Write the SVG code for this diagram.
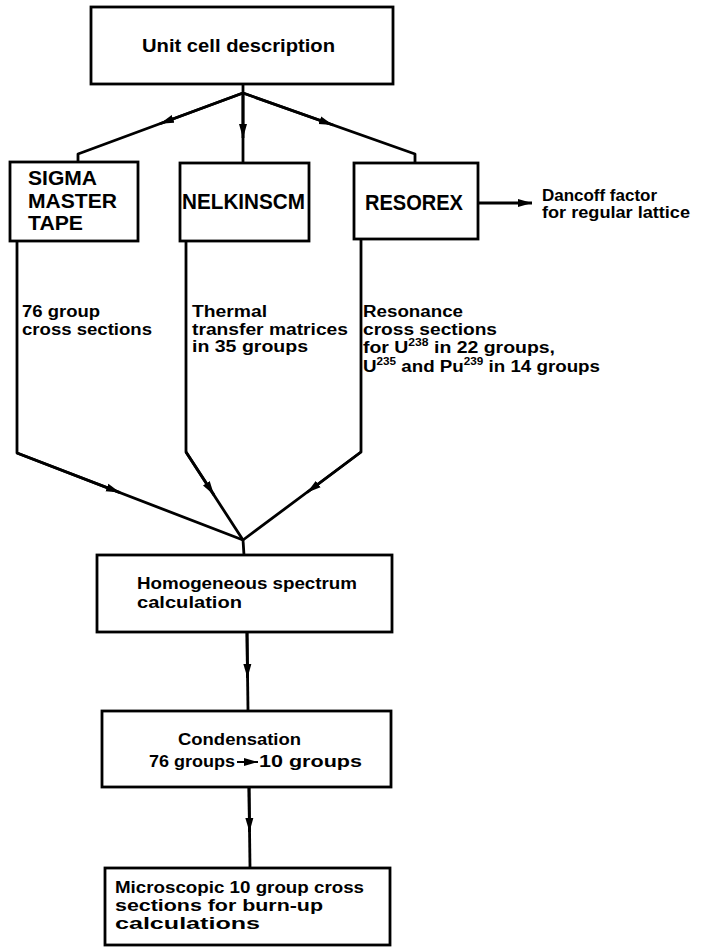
<svg xmlns="http://www.w3.org/2000/svg" width="712" height="947" viewBox="0 0 712 947">
<defs>
<style>
.box{fill:#fff;stroke:#000;stroke-width:2.8}
.ln{fill:none;stroke:#000;stroke-width:2.8;stroke-linejoin:round}
.ar{fill:none;stroke:#000;stroke-width:2.8;marker-end:url(#ah)}
.t{font-family:"Liberation Sans",Arial,sans-serif;font-weight:bold;font-size:16px;fill:#000}
.big{font-family:"Liberation Sans",Arial,sans-serif;font-weight:bold;font-size:20px;fill:#000}
.sup{font-size:10px}
</style>
<marker id="ah" viewBox="0 0 14 9" refX="14" refY="4.5" markerWidth="14" markerHeight="9" markerUnits="userSpaceOnUse" orient="auto">
<path d="M0,0.5 L14,4.5 L0,8.5 Z" fill="#000"/>
</marker>
</defs>
<rect width="712" height="947" fill="#fff"/>

<g id="connectors">
<path class="ln" d="M243,84 L243,93"/>
<path class="ln" d="M243,93 L78,154 L78,163"/>
<path class="ar" d="M243,93 L160,123.7"/>
<path class="ln" d="M243,93 L243,163"/>
<path class="ar" d="M243,93 L243,138"/>
<path class="ln" d="M243,93 L415,154 L415,163"/>
<path class="ar" d="M243,93 L333,125"/>
<path class="ar" d="M478,203 L532,203"/>
<path class="ln" d="M17,241 L17,453 L243,540"/>
<path class="ar" d="M17,453 L120,492.6"/>
<path class="ln" d="M186,241 L186,452 L243,540"/>
<path class="ar" d="M186,452 L214,495"/>
<path class="ln" d="M361,240 L361,452 L243,540"/>
<path class="ar" d="M361,452 L307,492.5"/>
<path class="ln" d="M243,540 L244,555"/>
<path class="ln" d="M247,632 L248,711"/>
<path class="ar" d="M247,632 L247.5,678"/>
<path class="ln" d="M249,787 L250,868"/>
<path class="ar" d="M249,787 L249.5,832"/>
</g>

<g id="label-sigma">
<text class="t" x="22" y="317" textLength="78" lengthAdjust="spacingAndGlyphs">76 group</text>
<text class="t" x="22" y="335" textLength="130" lengthAdjust="spacingAndGlyphs">cross sections</text>
</g>
<g id="label-nelkin">
<text class="t" x="192" y="317" textLength="75" lengthAdjust="spacingAndGlyphs">Thermal</text>
<text class="t" x="192" y="335" textLength="156" lengthAdjust="spacingAndGlyphs">transfer matrices</text>
<text class="t" x="192" y="352" textLength="116" lengthAdjust="spacingAndGlyphs">in  35 groups</text>
</g>
<g id="label-resorex">
<text class="t" x="363" y="317" textLength="100" lengthAdjust="spacingAndGlyphs">Resonance</text>
<text class="t" x="363" y="335" textLength="134" lengthAdjust="spacingAndGlyphs">cross sections</text>
<text class="t" x="363" y="353" textLength="192" lengthAdjust="spacingAndGlyphs">for  U<tspan class="sup" dy="-7">238</tspan><tspan dy="7"> in 22 groups,</tspan></text>
<text class="t" x="363" y="372" textLength="237" lengthAdjust="spacingAndGlyphs">U<tspan class="sup" dy="-7">235</tspan><tspan dy="7"> and  Pu</tspan><tspan class="sup" dy="-7">239</tspan><tspan dy="7"> in 14 groups</tspan></text>
</g>

<g id="node-unit-cell">
<rect class="box" x="91" y="7" width="302" height="77"/>
<text class="t" x="142" y="52" style="font-size:18px" textLength="193" lengthAdjust="spacingAndGlyphs">Unit  cell  description</text>
</g>

<g id="node-sigma">
<rect class="box" x="10" y="162" width="128" height="79"/>
<text class="big" x="28" y="185" textLength="69" lengthAdjust="spacingAndGlyphs">SIGMA</text>
<text class="big" x="28" y="208" textLength="89" lengthAdjust="spacingAndGlyphs">MASTER</text>
<text class="big" x="28" y="230" textLength="55" lengthAdjust="spacingAndGlyphs">TAPE</text>
</g>

<g id="node-nelkinscm">
<rect class="box" x="180" y="163" width="129" height="78"/>
<text class="big" x="182" y="209" style="font-size:22px" textLength="123" lengthAdjust="spacingAndGlyphs">NELKINSCM</text>
</g>

<g id="node-resorex">
<rect class="box" x="354" y="163" width="124" height="76"/>
<text class="big" x="365" y="210" style="font-size:22px" textLength="98" lengthAdjust="spacingAndGlyphs">RESOREX</text>
</g>

<g id="node-dancoff">
<text class="t" x="542" y="201" textLength="115" lengthAdjust="spacingAndGlyphs">Dancoff  factor</text>
<text class="t" x="542" y="218" textLength="148" lengthAdjust="spacingAndGlyphs">for  regular  lattice</text>
</g>

<g id="node-homogeneous">
<rect class="box" x="97" y="555" width="295" height="77"/>
<text class="t" x="137" y="589" textLength="220" lengthAdjust="spacingAndGlyphs">Homogeneous  spectrum</text>
<text class="t" x="137" y="608" textLength="105" lengthAdjust="spacingAndGlyphs">calculation</text>
</g>

<g id="node-condensation">
<rect class="box" x="102" y="711" width="289" height="76"/>
<text class="t" x="178" y="745" textLength="123" lengthAdjust="spacingAndGlyphs">Condensation</text>
<text class="t" x="149" y="767" textLength="86" lengthAdjust="spacingAndGlyphs">76 groups</text>
<path class="ar" d="M237,762 L258,762" style="stroke-width:2"/>
<text class="t" x="259" y="767" textLength="103" lengthAdjust="spacingAndGlyphs">10 groups</text>
</g>

<g id="node-microscopic">
<rect class="box" x="105" y="868" width="285" height="77"/>
<text class="t" x="115" y="893" textLength="249" lengthAdjust="spacingAndGlyphs">Microscopic 10 group  cross</text>
<text class="t" x="115" y="911" textLength="208" lengthAdjust="spacingAndGlyphs">sections  for  burn-up</text>
<text class="t" x="115" y="929" textLength="145" lengthAdjust="spacingAndGlyphs">calculations</text>
</g>
</svg>
